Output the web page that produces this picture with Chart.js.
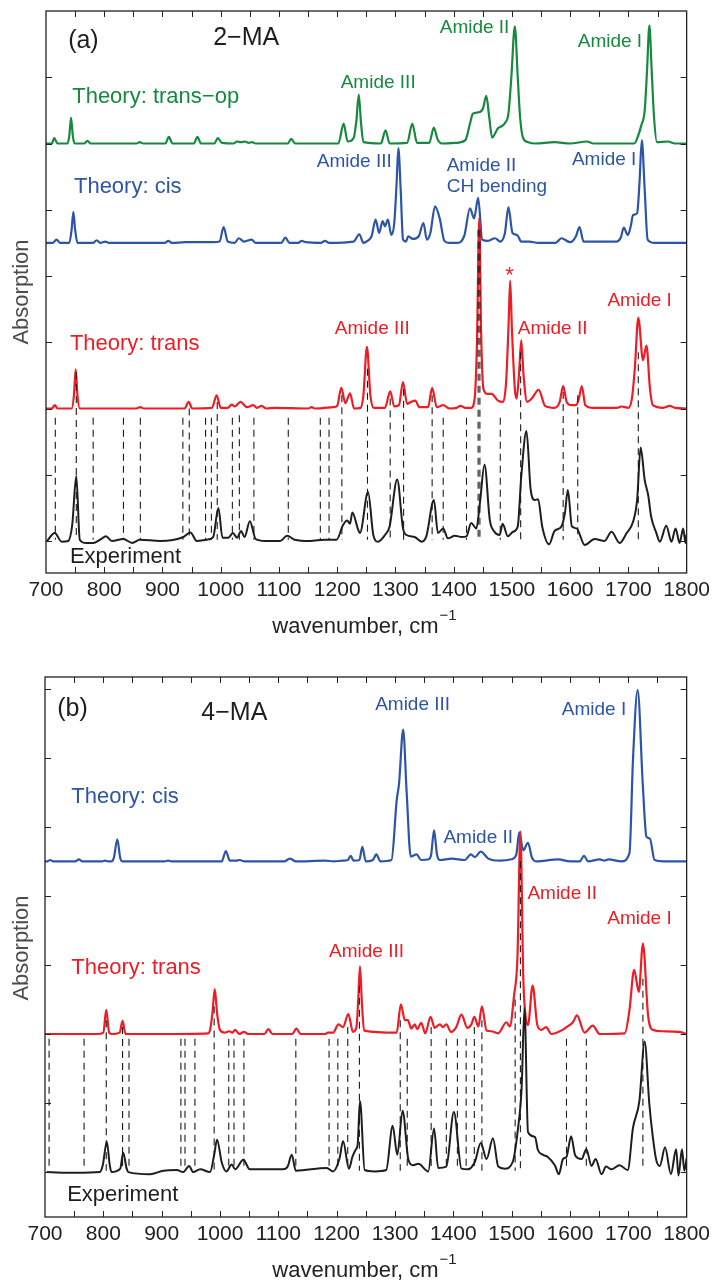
<!DOCTYPE html>
<html><head><meta charset="utf-8">
<script src="https://cdn.jsdelivr.net/npm/chart.js@4.4.0/dist/chart.umd.min.js"></script>
<style>
html,body{margin:0;padding:0;background:#fff;}
#wrap{position:relative;width:715px;height:1283px;overflow:hidden;}
canvas{position:absolute;left:0;}
#ca{top:0}
#cb{top:640px}
</style></head><body>
<div id="wrap"><canvas id="ca" width="715" height="640"></canvas><canvas id="cb" width="715" height="643"></canvas></div>
<script>
// ---------- DATA (wavenumber cm^-1, absorption with stacking offset) ----------
const xRange = [700, 1800];
const xTickStep = 50;

// Panel (a) 2-MA
const a_transop = [[700,6.0],[710,6.0],[714,6.08],[720,6.0],[737,6.0],[740,6.12],[743,6.39],[746,6.12],[749,6.0],[766,6.0],[771,6.04],[777,6.0],[855,6.0],[861,6.02],[867,6.0],[905,6.0],[911,6.1],[917,6.0],[954,6.0],[960,6.1],[966,6.0],[989,6.0],[995,6.08],[1002,6.01],[1022,6.0],[1028,6.03],[1035,6.02],[1042,6.03],[1048,6.01],[1054,6.02],[1060,6.0],[1115,6.0],[1121,6.07],[1128,6.0],[1202,6.0],[1211,6.3],[1218,6.03],[1228,6.08],[1233,6.35],[1237,6.74],[1241,6.3],[1245,6.02],[1275,6.0],[1283,6.2],[1290,6.0],[1320,6.01],[1329,6.3],[1337,6.01],[1358,6.01],[1366,6.24],[1372,6.07],[1380,6.0],[1405,6.01],[1420,6.05],[1428,6.3],[1433,6.45],[1442,6.47],[1450,6.52],[1456,6.72],[1461,6.4],[1466,6.09],[1476,6.23],[1482,6.26],[1488,6.31],[1494,6.45],[1499,7.0],[1505,7.77],[1510,7.0],[1514,6.4],[1519,6.09],[1528,6.02],[1540,6.0],[1573,6.02],[1600,6.0],[1629,6.03],[1640,6.0],[1710,6.0],[1718,6.15],[1722,6.27],[1728,6.5],[1732,7.1],[1736,7.78],[1740,7.1],[1744,6.4],[1749,6.02],[1768,6.03],[1780,6.0],[1800,6.0]];

const a_cis = [[700,4.5],[712,4.5],[718,4.55],[724,4.5],[740,4.5],[744,4.7],[747,4.97],[750,4.7],[754,4.5],[781,4.5],[787,4.54],[793,4.5],[802,4.52],[808,4.5],[904,4.5],[910,4.53],[916,4.5],[939,4.51],[987,4.51],[998,4.52],[1005,4.74],[1012,4.52],[1024,4.5],[1031,4.57],[1040,4.52],[1053,4.55],[1060,4.5],[1104,4.5],[1111,4.58],[1118,4.5],[1133,4.5],[1139,4.53],[1146,4.51],[1172,4.5],[1179,4.53],[1186,4.5],[1228,4.52],[1238,4.63],[1245,4.5],[1252,4.53],[1259,4.6],[1266,4.85],[1272,4.65],[1278,4.83],[1282,4.75],[1287,4.85],[1293,4.62],[1298,4.8],[1302,5.4],[1305,5.93],[1309,5.3],[1313,4.55],[1318,4.52],[1322,4.6],[1330,4.56],[1340,4.6],[1348,4.8],[1354,4.55],[1360,4.65],[1368,5.05],[1376,4.87],[1384,4.53],[1392,4.5],[1405,4.5],[1418,4.6],[1428,5.02],[1435,4.87],[1442,5.18],[1449,4.55],[1459,4.53],[1471,4.57],[1480,4.52],[1488,4.65],[1494,5.04],[1501,4.65],[1509,4.62],[1516,4.52],[1530,4.52],[1545,4.5],[1575,4.5],[1585,4.57],[1600,4.51],[1610,4.6],[1616,4.74],[1623,4.52],[1680,4.52],[1687,4.58],[1692,4.73],[1699,4.62],[1704,4.75],[1708,4.92],[1715,4.95],[1719,5.4],[1723,6.05],[1728,5.3],[1733,4.55],[1745,4.5],[1800,4.5]];

const a_trans = [[700,2.0],[710,2.0],[715,2.05],[720,2.0],[744,2.0],[748,2.2],[751,2.59],[754,2.2],[758,2.0],[855,2.0],[862,2.02],[868,2.0],[938,2.0],[945,2.1],[951,2.0],[985,2.01],[993,2.2],[1000,2.01],[1012,2.01],[1019,2.06],[1024,2.03],[1034,2.1],[1045,2.02],[1056,2.05],[1062,2.01],[1070,2.04],[1078,2.0],[1093,2.01],[1150,2.0],[1156,2.02],[1162,2.0],[1193,2.02],[1200,2.04],[1207,2.31],[1214,2.08],[1222,2.23],[1229,2.0],[1240,2.01],[1245,2.2],[1251,2.93],[1257,2.2],[1263,2.01],[1282,2.01],[1291,2.26],[1298,2.03],[1306,2.05],[1313,2.4],[1320,2.07],[1327,2.1],[1334,2.12],[1341,2.02],[1356,2.02],[1363,2.31],[1371,2.02],[1382,2.05],[1393,2.0],[1405,2.01],[1412,2.04],[1420,2.01],[1430,2.01],[1436,2.15],[1440,3.0],[1444,4.88],[1447,3.2],[1451,2.3],[1458,2.22],[1465,2.22],[1476,2.12],[1485,2.1],[1490,2.4],[1494,3.2],[1497,3.93],[1500,3.2],[1505,2.3],[1508,2.15],[1512,2.5],[1516,3.03],[1520,2.5],[1526,2.1],[1534,2.15],[1546,2.28],[1557,2.04],[1573,2.01],[1582,2.1],[1588,2.34],[1594,2.1],[1602,2.05],[1610,2.05],[1615,2.15],[1620,2.34],[1626,2.05],[1640,2.01],[1680,2.01],[1688,2.03],[1700,2.01],[1706,2.15],[1711,2.6],[1717,3.37],[1725,2.73],[1731,2.95],[1737,2.3],[1742,2.05],[1760,2.01],[1771,2.04],[1780,2.01],[1800,2.0]];

const a_exp = [[701,-0.01],[715,0.12],[727,-0.01],[738,0],[745,0.24],[752,0.98],[758,0.02],[769,-0.03],[781,-0.03],[793,0.02],[803,0.07],[813,0],[833,0.03],[848,-0.03],[861,0.02],[896,0],[936,0.06],[948,0.13],[959,0],[976,0.02],[987,0.06],[996,0.5],[1003,0.05],[1013,0.05],[1021,0.12],[1028,0.05],[1035,0.15],[1041,0.06],[1050,0.3],[1060,0.03],[1076,0],[1102,0],[1114,0.08],[1127,0.02],[1153,0],[1179,0.02],[1199,0.02],[1210,0.24],[1217,0.31],[1222,0.26],[1226,0.43],[1236,0.17],[1239,0.12],[1253,0.74],[1262,0.09],[1270,-0.01],[1282,0.09],[1290,0.22],[1303,0.93],[1313,0.19],[1319,0.09],[1333,0.06],[1345,-0.01],[1353,0.07],[1366,0.62],[1373,0.12],[1382,0.19],[1390,0.04],[1402,0.08],[1414,0.06],[1422,0.07],[1430,0.27],[1439,0.19],[1445,0.57],[1453,1.15],[1462,0.32],[1470,0.14],[1479,0.09],[1484,0.26],[1493,0.07],[1502,0.14],[1510,0.22],[1516,0.97],[1525,1.66],[1532,0.79],[1539,0.62],[1545,0.63],[1552,0.22],[1564,-0.05],[1573,0.15],[1585,0.22],[1591,0.42],[1596,0.77],[1603,0.22],[1611,0.19],[1625,-0.06],[1642,0.03],[1659,0],[1671,0.14],[1685,-0.03],[1697,0.12],[1708,0.29],[1715,0.62],[1721,1.41],[1728,0.92],[1734,0.69],[1739,0.37],[1748,0.12],[1754,-0.01],[1765,0.23],[1774,-0.01],[1781,0.19],[1788,-0.03],[1794,0.19],[1798,-0.03],[1800,0.1]];

const a_dashX   = [716,752,781,833,862,935,946,974,984,994,1020,1032,1057,1116,1171,1186,1208,1252,1291,1314,1363,1382,1422,1442,1445,1480,1515,1588,1613,1717];
const a_dashTop = [1.86,2.55,1.86,1.86,1.86,1.86,2.0,1.86,1.86,2.1,1.86,1.9,1.86,1.86,1.86,1.86,2.2,2.6,2.15,2.3,2.2,1.86,1.86,4.7,4.7,1.86,2.85,2.25,2.2,2.85];

// Panel (b) 4-MA
const b_cis = [[700,4.5],[704,4.5],[709,4.52],[714,4.5],[752,4.5],[758,4.53],[764,4.5],[798,4.5],[803,4.51],[808,4.5],[814,4.5],[818,4.55],[824,4.82],[829,4.55],[833,4.5],[905,4.5],[911,4.51],[917,4.5],[1003,4.5],[1010,4.65],[1017,4.51],[1027,4.51],[1034,4.52],[1042,4.5],[1110,4.5],[1120,4.54],[1130,4.5],[1180,4.51],[1195,4.5],[1210,4.51],[1219,4.52],[1224,4.58],[1229,4.51],[1239,4.52],[1244,4.71],[1250,4.5],[1262,4.52],[1268,4.6],[1275,4.5],[1294,4.52],[1303,5.39],[1307,5.63],[1314,6.41],[1320,5.5],[1327,4.57],[1337,4.6],[1345,4.52],[1358,4.53],[1362,4.6],[1367,4.95],[1372,4.6],[1377,4.52],[1397,4.54],[1420,4.52],[1430,4.6],[1437,4.56],[1447,4.64],[1460,4.54],[1480,4.51],[1500,4.53],[1508,4.6],[1513,4.92],[1520,4.66],[1528,4.77],[1535,4.55],[1542,4.5],[1580,4.53],[1600,4.5],[1617,4.5],[1624,4.58],[1631,4.5],[1651,4.53],[1659,4.51],[1666,4.53],[1688,4.5],[1702,4.62],[1708,5.97],[1716,6.98],[1725,5.58],[1731,4.86],[1737,4.83],[1745,4.52],[1760,4.5],[1800,4.5]];

const b_trans = [[700,2.0],[790,2.0],[800,2.02],[805,2.35],[810,2.02],[815,2.0],[828,2.02],[833,2.19],[838,2.0],[900,2.0],[980,2.01],[983,2.06],[987,2.3],[991,2.65],[995,2.3],[1000,2.06],[1008,2.02],[1016,2.04],[1021,2.02],[1026,2.06],[1033,2.0],[1041,2.03],[1048,2.0],[1076,2.0],[1083,2.07],[1090,2.0],[1124,2.0],[1131,2.08],[1138,2.0],[1180,2.0],[1185,2.02],[1194,2.02],[1203,2.14],[1211,2.1],[1220,2.29],[1228,2.03],[1234,2.1],[1237,2.5],[1240,2.98],[1243,2.5],[1247,2.05],[1303,2.02],[1310,2.43],[1317,2.2],[1322,2.2],[1328,2.08],[1334,2.14],[1338,2.07],[1345,2.16],[1352,2.01],[1361,2.25],[1368,2.09],[1377,2.14],[1382,2.1],[1388,2.14],[1396,2.03],[1405,2.1],[1414,2.28],[1424,2.09],[1431,2.14],[1436,2.25],[1443,2.11],[1449,2.4],[1457,2.05],[1465,2.04],[1477,2.01],[1491,2.17],[1497,2.11],[1504,2.55],[1510,3.12],[1515,4.93],[1520,2.8],[1524,2.25],[1528,2.13],[1536,2.7],[1544,2.13],[1551,2.06],[1559,2.1],[1568,2.0],[1585,2.05],[1594,2.1],[1605,2.17],[1612,2.27],[1625,2.02],[1639,2.12],[1651,2.0],[1694,2.01],[1702,2.35],[1710,2.93],[1718,2.61],[1725,3.31],[1734,2.26],[1742,2.06],[1759,2.04],[1788,2.03],[1800,2.0]];

const b_exp = [[703,0],[754,-0.01],[794,0],[799,0.1],[806,0.44],[811,0.1],[814,0],[829,0.05],[834,0.28],[840,0.05],[843,0],[880,-0.03],[903,0.02],[926,0.03],[937,0],[947,0.09],[954,0],[966,0.04],[983,0],[990,0.25],[995,0.47],[1003,0.14],[1011,0.01],[1020,0.11],[1026,0.04],[1040,0.18],[1051,0.04],[1108,0.04],[1116,0.08],[1123,0.25],[1130,0.02],[1183,0.06],[1194,0.01],[1205,0.2],[1211,0.45],[1221,0.05],[1227,0.22],[1233,0.33],[1236,0.4],[1240,1.03],[1248,0.03],[1265,0.01],[1285,0.03],[1296,0.67],[1304,0.25],[1313,0.89],[1323,0.18],[1331,0.1],[1340,0.12],[1357,0.01],[1367,0.63],[1374,0.06],[1388,0.08],[1401,0.87],[1414,0.05],[1425,0.04],[1437,0.15],[1447,0.42],[1457,0.19],[1468,0.49],[1477,0.08],[1488,0.05],[1502,0.15],[1511,0.64],[1517,1.2],[1522,2.38],[1528,0.58],[1540,0.51],[1545,0.32],[1554,0.25],[1562,0.22],[1574,0.1],[1581,-0.03],[1588,0.19],[1594,0.22],[1602,0.52],[1609,0.24],[1620,0.19],[1628,0.33],[1637,0.09],[1644,0.19],[1654,-0.03],[1662,0.08],[1671,0.04],[1685,0.1],[1699,0.03],[1708,0.64],[1719,1.03],[1728,1.89],[1736,0.99],[1742,0.51],[1748,0.17],[1754,0.09],[1763,0.36],[1773,-0.03],[1782,0.33],[1786,-0.05],[1792,0.33],[1796,0.02],[1800,0.2]];

const b_dashX   = [707,767,805,833,844,933,940,957,990,1015,1024,1041,1130,1187,1202,1219,1239,1309,1321,1362,1388,1407,1422,1436,1449,1506,1515,1594,1628,1725];
const b_dashTop = [1.93,1.93,2.2,2.1,1.93,1.93,1.93,1.93,2.4,1.93,1.93,1.93,1.93,1.93,1.93,2.1,2.7,2.2,1.93,2.1,1.93,1.93,1.93,2.1,2.2,2.5,4.5,1.93,1.93,2.8];

// ---------- STYLE ----------
const FF = '"Liberation Sans", Arial, Helvetica, sans-serif';
const GREEN = '#16893f', BLUE = '#2c55a8', RED = '#ee1d25', BLACK = '#1e1e1e', DASH = '#1a1a1a';

const textsA = [
  {t:'(a)', x:738, y:7.54, c:BLACK, s:25},
  {t:'2\u2212MA', x:987, y:7.59, c:BLACK, s:25},
  {t:'Theory: trans\u2212op', x:745, y:6.71, c:GREEN, s:22},
  {t:'Amide III', x:1206, y:6.91, c:GREEN, s:19},
  {t:'Amide II', x:1376, y:7.74, c:GREEN, s:19},
  {t:'Amide I', x:1613, y:7.53, c:GREEN, s:19},
  {t:'Theory: cis', x:748, y:5.35, c:BLUE, s:22},
  {t:'Amide III', x:1165, y:5.72, c:BLUE, s:19},
  {t:'Amide II', x:1388, y:5.67, c:BLUE, s:19},
  {t:'CH bending', x:1388, y:5.34, c:BLUE, s:19},
  {t:'Amide I', x:1603, y:5.76, c:BLUE, s:19},
  {t:'Theory: trans', x:741, y:2.97, c:RED, s:22},
  {t:'Amide III', x:1196, y:3.21, c:RED, s:19},
  {t:'*', x:1496, y:3.91, c:RED, s:22, center:true, alpha:true},
  {t:'Amide II', x:1510, y:3.21, c:RED, s:19},
  {t:'Amide I', x:1664, y:3.62, c:RED, s:19},
  {t:'Experiment', x:741, y:-0.24, c:BLACK, s:22}
];
const textsB = [
  {t:'(b)', x:721, y:6.70, c:BLACK, s:25},
  {t:'4\u2212MA', x:968, y:6.65, c:BLACK, s:25},
  {t:'Theory: cis', x:745, y:5.43, c:BLUE, s:22},
  {t:'Amide III', x:1266, y:6.77, c:BLUE, s:19},
  {t:'Amide I', x:1586, y:6.70, c:BLUE, s:19},
  {t:'Amide II', x:1383, y:4.84, c:BLUE, s:19},
  {t:'Theory: trans', x:745, y:2.96, c:RED, s:22},
  {t:'Amide III', x:1187, y:3.19, c:RED, s:19},
  {t:'Amide II', x:1527, y:4.03, c:RED, s:19},
  {t:'Amide I', x:1664, y:3.67, c:RED, s:19},
  {t:'Experiment', x:738, y:-0.33, c:BLACK, s:22}
];

const deco = {
  id: 'deco',
  afterDraw(chart, args, o) {
    const {ctx, chartArea: ca, scales: {x, y}} = chart;
    ctx.save();
    ctx.strokeStyle = '#222'; ctx.lineWidth = 1.3;
    ctx.strokeRect(ca.left, ca.top, ca.right - ca.left, ca.bottom - ca.top);
    ctx.lineWidth = 1;
    const TL = 6;
    x.ticks.forEach(t => {
      const px = Math.round(x.getPixelForValue(t.value)) + 0.5;
      if (px <= ca.left + 1 || px >= ca.right - 1) return;
      ctx.beginPath();
      ctx.moveTo(px, ca.bottom); ctx.lineTo(px, ca.bottom - TL);
      ctx.moveTo(px, ca.top); ctx.lineTo(px, ca.top + TL);
      ctx.stroke();
    });
    for (let v = Math.ceil(y.min); v <= Math.floor(y.max); v++) {
      const py = Math.round(y.getPixelForValue(v)) + 0.5;
      if (py <= ca.top + 1 || py >= ca.bottom - 1) continue;
      ctx.beginPath();
      ctx.moveTo(ca.left, py); ctx.lineTo(ca.left + TL, py);
      ctx.moveTo(ca.right, py); ctx.lineTo(ca.right - TL, py);
      ctx.stroke();
    }
    o.texts.forEach(a => {
      ctx.font = a.s + 'px ' + FF;
      ctx.fillStyle = a.c;
      ctx.textAlign = a.center ? 'center' : 'left';
      ctx.textBaseline = a.alpha ? 'alphabetic' : 'middle';
      ctx.fillText(a.t, x.getPixelForValue(a.x), y.getPixelForValue(a.y));
    });
    ctx.fillStyle = '#222';
    ctx.textBaseline = 'alphabetic'; ctx.textAlign = 'left';
    const main = 'wavenumber, cm', sup = '\u22121';
    ctx.font = '22px ' + FF; const w1 = ctx.measureText(main).width;
    ctx.font = '15px ' + FF; const w2 = ctx.measureText(sup).width;
    const sx = o.titleX - (w1 + w2) / 2;
    ctx.font = '22px ' + FF; ctx.fillText(main, sx, o.titleY);
    ctx.font = '15px ' + FF; ctx.fillText(sup, sx + w1 + 1, o.titleY - 13);
    ctx.save();
    ctx.translate(o.absX, o.absY); ctx.rotate(-Math.PI / 2);
    ctx.font = '22px ' + FF; ctx.fillStyle = '#4a4a4a';
    ctx.textAlign = 'center'; ctx.textBaseline = 'middle';
    ctx.fillText('Absorption', 0, 0);
    ctx.restore();
    ctx.restore();
  }
};

function dashData(xs, tops) {
  const d = [];
  xs.forEach((v, i) => { d.push({x: v, y: tops[i]}); d.push({x: v, y: 0.02}); d.push({x: v, y: null}); });
  return d;
}
function trace(data, color, order, w) {
  return {data, borderColor: color, borderWidth: w || 2.2, pointRadius: 0, fill: false,
          cubicInterpolationMode: 'monotone', order};
}
function dashSet(xs, tops) {
  return {data: dashData(xs, tops), borderColor: DASH, borderWidth: 1.1, borderDash: [7, 5],
          pointRadius: 0, tension: 0, spanGaps: false, fill: false, order: 0};
}

function makeChart(id, datasets, yMin, yMax, pad, axisH, deco_o) {
  return new Chart(document.getElementById(id), {
    type: 'line',
    data: {datasets},
    options: {
      responsive: false, animation: false, events: [],
      layout: {padding: pad},
      plugins: {legend: {display: false}, tooltip: {enabled: false}, deco: deco_o},
      scales: {
        x: {type: 'linear', min: xRange[0], max: xRange[1],
            grid: {display: false, drawTicks: false}, border: {display: false},
            ticks: {stepSize: xTickStep, autoSkip: false, maxRotation: 0, minRotation: 0, includeBounds: false,
                    padding: 5, color: '#222', font: {family: FF, size: 21},
                    callback: v => (v % 100 === 0 ? String(v) : '')},
            afterFit(s) { s.height = axisH; }},
        y: {type: 'linear', display: false, min: yMin, max: yMax}
      }
    },
    plugins: [deco]
  });
}

makeChart('ca', [
  dashSet(a_dashX, a_dashTop),
  trace(a_exp, BLACK, 1, 2),
  trace(a_trans, RED, 2),
  trace(a_cis, BLUE, 3),
  trace(a_transop, GREEN, 4)
], -0.483, 8.0, {left: 46, top: 11, right: 28, bottom: 0}, 67,
  {texts: textsA, titleX: 364, titleY: 633, absX: 22, absY: 292});

makeChart('cb', [
  dashSet(b_dashX, b_dashTop),
  trace(b_exp, BLACK, 1, 2),
  trace(b_trans, RED, 2),
  trace(b_cis, BLUE, 3)
], -0.65, 7.17, {left: 45, top: 37, right: 28, bottom: 0}, 66,
  {texts: textsB, titleX: 364, titleY: 637, absX: 22, absY: 308});
</script>
</body></html>
